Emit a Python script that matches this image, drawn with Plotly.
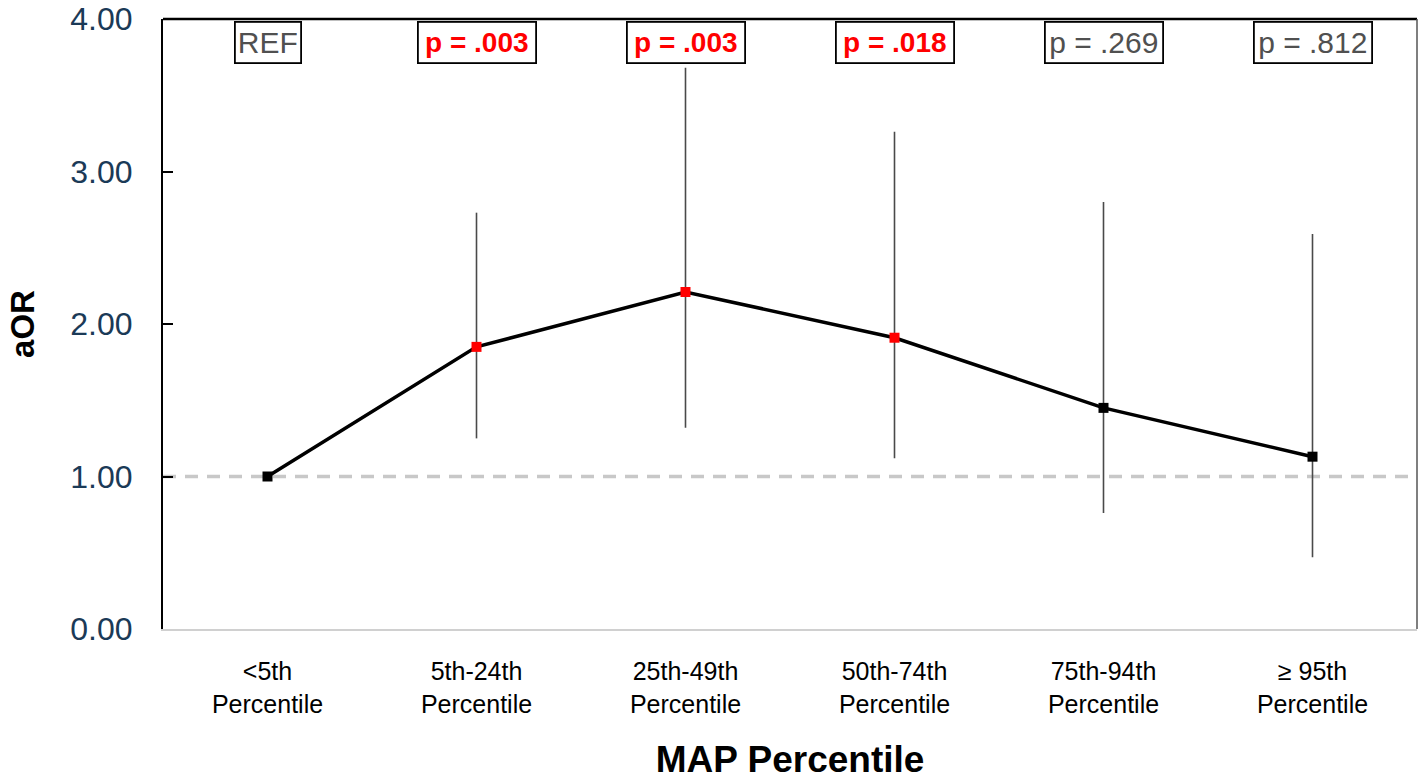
import plotly.graph_objects as go

categories = ["<5th<br>Percentile", "5th-24th<br>Percentile", "25th-49th<br>Percentile",
              "50th-74th<br>Percentile", "75th-94th<br>Percentile", "≥ 95th<br>Percentile"]
aor = [1.00, 1.85, 2.21, 1.91, 1.45, 1.13]
ci_upper = [1.00, 2.73, 3.68, 3.26, 2.80, 2.59]
ci_lower = [1.00, 1.25, 1.32, 1.12, 0.76, 0.47]
p_labels = ["REF", "p = .003", "p = .003", "p = .018", "p = .269", "p = .812"]
significant = [False, True, True, True, False, False]

err_plus = [u - v for u, v in zip(ci_upper, aor)]
err_minus = [v - l for v, l in zip(aor, ci_lower)]
marker_colors = ["#ff0000" if s else "#000000" for s in significant]

FONT = "Liberation Sans, Arial, sans-serif"

fig = go.Figure()
fig.add_trace(go.Scatter(
    x=categories, y=aor, mode="lines+markers",
    line=dict(color="black", width=3.5),
    marker=dict(symbol="square", size=10, color=marker_colors, line=dict(width=0)),
    error_y=dict(type="data", symmetric=False, array=err_plus, arrayminus=err_minus,
                 width=0, thickness=1.6, color="#4a4a4a"),
    showlegend=False,
))

# reference line at 1.00
fig.add_hline(y=1.0, line=dict(color="#c8c8c8", width=3.5, dash="13px,9px"), layer="below")

# frame lines
fig.add_shape(type="line", xref="paper", yref="paper", x0=0, x1=1, y0=1, y1=1,
              line=dict(color="black", width=2.5))
fig.add_shape(type="line", xref="paper", yref="paper", x0=1, x1=1, y0=0, y1=1,
              line=dict(color="#555555", width=1.5))

for cat, lab, sig in zip(categories, p_labels, significant):
    lab_w = 60 if lab == "REF" else 112
    fig.add_annotation(
        x=cat, y=1, xref="x", yref="paper", yanchor="top", yshift=-2,
        text=f"<b>{lab}</b>" if sig else lab, showarrow=False,
        width=lab_w, height=35,
        font=dict(family=FONT, size=28 if sig else 30, color="#ff0000" if sig else "#505050"),
        bgcolor="white", bordercolor="black", borderwidth=1.8, borderpad=2,
    )

fig.update_layout(
    width=1418, height=780,
    margin=dict(l=163, r=1, t=15, b=151),
    plot_bgcolor="white", paper_bgcolor="white",
    font=dict(family=FONT),
    xaxis=dict(
        type="category", range=[-0.5, 5.5], showgrid=False, zeroline=False,
        showline=True, linecolor="#d0d0d0", linewidth=2, ticks="",
        ticklabelstandoff=19,
        tickfont=dict(family=FONT, size=25, color="black"),
        title=dict(text="<b>MAP Percentile</b>", font=dict(family=FONT, size=37, color="black"),
                   standoff=32),
    ),
    yaxis=dict(
        range=[0, 4], tickvals=[0, 1, 2, 3, 4], ticktext=["0.00", "1.00", "2.00", "3.00", "4.00"],
        showgrid=False, zeroline=False, showline=True, linecolor="black", linewidth=2,
        ticks="inside", ticklen=10, tickcolor="black", tickwidth=1.5,
        ticklabelstandoff=22, ticklabeloverflow="allow",
        tickfont=dict(family=FONT, size=32, color="#1b3a57"),
        title=dict(text="<b>aOR</b>", font=dict(family=FONT, size=33, color="black"),
                   standoff=26),
    ),
)

fig.write_html("out.html", config={"displayModeBar": False},
               post_script="document.body.style.margin='0';document.body.style.overflow='hidden';")
